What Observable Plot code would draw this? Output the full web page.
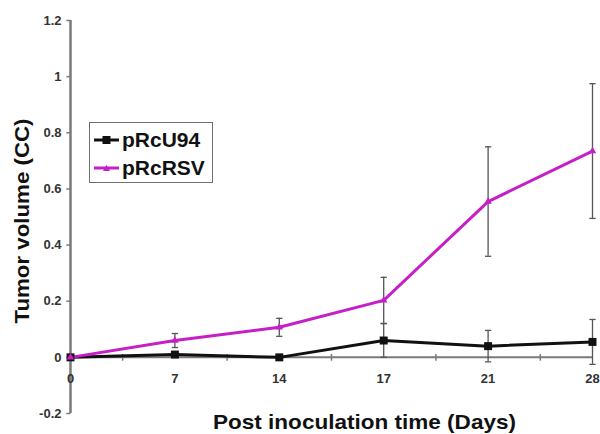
<!DOCTYPE html>
<html>
<head>
<meta charset="utf-8">
<script src="https://cdn.jsdelivr.net/npm/d3@7"></script>
<script src="https://cdn.jsdelivr.net/npm/@observablehq/plot@0.6"></script>
<style>
  body { margin: 0; background: #fff; }
  #wrap { position: relative; width: 600px; height: 434px; overflow: hidden; font-family: "Liberation Sans", Arial, sans-serif; }
  #legend { position: absolute; left: 89px; top: 122px; width: 124px; height: 61px; border: 1.5px solid #6f6f6f; background: #fff; box-sizing: border-box; }
  .item { position: absolute; left: 4px; display: flex; align-items: center; font-weight: bold; font-size: 21px; color: #111; line-height: 24px; }
  .item svg { margin-right: 3px; }
</style>
</head>
<body>
<div id="wrap"></div>
<script>
const days = ["0", "7", "14", "17", "21", "28"];
const seriesNames = ["pRcU94", "pRcRSV"];
const u94 = [0, 0.01, 0, 0.06, 0.04, 0.055];
const u94Err = [0, 0.01, 0, 0.06, 0.056, 0.08];
const rsv = [0, 0.06, 0.107, 0.203, 0.555, 0.735];
const rsvErr = [0, 0.025, 0.032, 0.082, 0.195, 0.24];
const yTicks = [-0.2, 0, 0.2, 0.4, 0.6, 0.8, 1, 1.2];
const colors = ["#111111", "#c61fc6"];
const xTitle = "Post inoculation time (Days)";
const yTitle = "Tumor volume (CC)";

const data = [];
days.forEach((d, i) => {
  data.push({i, day: d, series: seriesNames[0], v: u94[i], e: u94Err[i]});
  data.push({i, day: d, series: seriesNames[1], v: rsv[i], e: rsvErr[i]});
});
const errs = data.filter(d => d.e > 0);
const idx = days.map((d, i) => i);
const mids = idx.slice(1).map(i => i - 0.5);
const capHalf = 0.03;
const tickLen = 0.04;
const tickFont = "Liberation Sans Narrow, Liberation Sans, Arial, sans-serif";

const plot = Plot.plot({
  width: 600,
  height: 434,
  marginLeft: 70,
  marginRight: 8,
  marginTop: 20,
  marginBottom: 21,
  style: {fontFamily: "Liberation Sans, Arial, sans-serif", background: "#fff"},
  x: {type: "linear", domain: [0, days.length - 1], axis: null},
  y: {domain: [-0.2, 1.2], axis: null},
  marks: [
    // y axis
    Plot.ruleX([0], {x: d => d, y1: -0.2, y2: 1.2, stroke: "#7a7a7a", strokeWidth: 2.5}),
    Plot.link(yTicks, {x1: -tickLen, x2: 0, y1: d => d, y2: d => d, stroke: "#7a7a7a", strokeWidth: 1.5}),
    Plot.text(yTicks, {x: 0, y: d => d, text: d => String(+d.toFixed(1)), textAnchor: "end", dx: -9, fontSize: 13, fontWeight: "bold", fill: "#333", fontFamily: tickFont}),
    // x axis at y=0
    Plot.ruleY([0], {stroke: "#7a7a7a", strokeWidth: 2}),
    Plot.link(mids, {x1: d => d, x2: d => d, y1: -0.012, y2: 0.012, stroke: "#7a7a7a", strokeWidth: 1.5}),
    Plot.text(idx, {x: d => d, y: 0, text: d => days[d], dy: 21, fontSize: 13, fontWeight: "bold", fill: "#333", fontFamily: tickFont}),
    // error bars
    Plot.ruleX(errs, {x: "i", y1: d => d.v - d.e, y2: d => d.v + d.e, stroke: "#555", strokeWidth: 1.3}),
    Plot.link(errs, {x1: d => d.i - capHalf, x2: d => d.i + capHalf, y1: d => d.v + d.e, y2: d => d.v + d.e, stroke: "#555", strokeWidth: 1.3}),
    Plot.link(errs, {x1: d => d.i - capHalf, x2: d => d.i + capHalf, y1: d => d.v - d.e, y2: d => d.v - d.e, stroke: "#555", strokeWidth: 1.3}),
    // lines
    Plot.line(data, {x: "i", y: "v", z: "series", stroke: d => d.series === seriesNames[0] ? colors[0] : colors[1], strokeWidth: 3}),
    Plot.dot(data.filter(d => d.series === seriesNames[0]), {x: "i", y: "v", symbol: "square", r: 4.5, fill: colors[0]}),
    Plot.dot(data.filter(d => d.series === seriesNames[1]), {x: "i", y: "v", symbol: "triangle", r: 2.8, fill: colors[1]}),
    // axis titles
    Plot.text([xTitle], {frameAnchor: "bottom", textAnchor: "middle", text: d => d, dy: 15, dx: 33, fontSize: 21, fontWeight: "bold", fill: "#111"}),
    Plot.text([yTitle], {frameAnchor: "left", textAnchor: "middle", text: d => d, rotate: -90, dx: -48, dy: 4, fontSize: 21, fontWeight: "bold", fill: "#111"})
  ]
});

// stretch the titles to the reference's lengths
plot.querySelectorAll("text").forEach(t => {
  if (t.textContent === xTitle) { t.setAttribute("textLength", 303); t.setAttribute("lengthAdjust", "spacingAndGlyphs"); }
  if (t.textContent === yTitle) { t.setAttribute("textLength", 205); t.setAttribute("lengthAdjust", "spacingAndGlyphs"); }
});

const wrap = document.getElementById("wrap");
wrap.appendChild(plot);

const legend = document.createElement("div");
legend.id = "legend";
seriesNames.forEach((name, k) => {
  const item = document.createElement("div");
  item.className = "item";
  item.style.top = (k === 0 ? 5 : 33) + "px";
  const marker = k === 0
    ? `<rect x="8.5" y="4" width="8" height="8" fill="${colors[0]}"/>`
    : `<path d="M12.5,5 L16,11 L9,11 Z" fill="${colors[1]}"/>`;
  item.innerHTML = `<svg width="25" height="16"><line x1="0" y1="8" x2="25" y2="8" stroke="${colors[k]}" stroke-width="3"/>${marker}</svg><span>${name}</span>`;
  legend.appendChild(item);
});
wrap.appendChild(legend);
</script>
</body>
</html>
